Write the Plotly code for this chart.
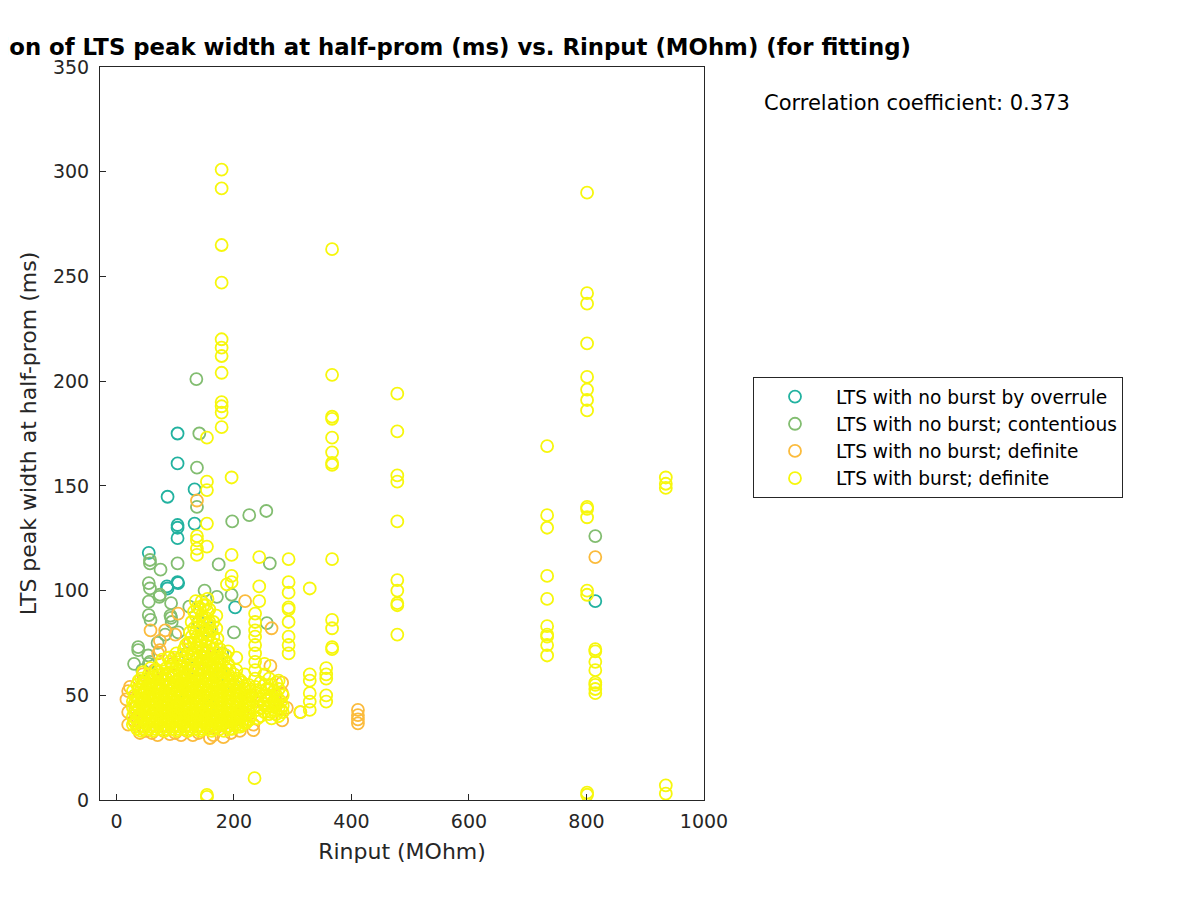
import plotly.graph_objects as go

# ---------------- data ----------------
# LTS with no burst by overrule
overrule_rinput = [104, 104, 87, 133, 104, 104, 104, 133, 55, 104, 87, 202, 105, 86, 154, 815, 180, 160, 120, 200]
overrule_width = [175, 160.7, 144.8, 148.3, 131.3, 130, 125, 132, 118, 104, 101, 92, 103.6, 102, 81, 95, 60, 45, 50, 55]

# LTS with no burst; contentious
contentious_rinput = [136, 141, 137, 137, 255, 226, 197, 57, 57, 75, 104, 261, 174, 55, 57, 73, 55, 93,
                      124, 55, 58, 93, 94, 37, 37, 30, 55, 57, 54, 70, 83, 159, 171, 196, 256, 92, 74,
                      815, 105, 120, 180, 200, 60, 44, 140, 150, 130]
contentious_width = [201, 175, 158.7, 140, 138, 136, 133, 114.6, 113, 110, 113, 113, 112.5, 103.6, 101, 97,
                     94.7, 94, 92.3, 88.3, 86, 87, 85, 73, 71.6, 65, 65, 66, 69, 75, 79, 82, 97, 98, 84.5,
                     88, 98, 126, 80, 70, 70, 80, 60, 62, 85, 100, 63]

# LTS with no burst; definite
nb_definite_rinput = [20, 17, 23, 20, 20, 30, 32, 40, 45, 50, 60, 70, 80, 91, 100, 110, 120, 130, 140, 159,
                      165, 182, 195, 210, 233, 233, 282, 282, 282, 313, 411, 411, 411, 411, 219, 105, 58,
                      83, 100, 74, 74, 71, 264, 262, 137, 815, 90, 95, 125, 150, 60, 55, 45, 85, 230, 250,
                      270, 290, 200, 180, 215, 160, 120, 100, 140, 65]
nb_definite_width = [52, 48, 54, 42, 36, 38, 44, 32, 35, 33, 32, 31, 33, 31.5, 32, 31, 33, 31, 32, 29.6,
                     31, 30, 32, 33, 33.4, 36, 38, 51, 56, 42, 43, 40.5, 38.5, 36.6, 95, 89, 81,
                     81, 79, 71.6, 76, 70, 82, 64, 143, 116, 68, 65, 75, 70, 55, 50, 60, 58, 50, 46,
                     48, 44, 40, 36, 42, 38, 40, 45, 62, 62]

# LTS with burst; definite  (one Rinput per cell, several widths per cell)
burst_cell_rinput = [179, 154, 367, 478, 733, 801, 815, 935, 137, 196, 188, 243, 293, 329, 357, 235, 313, 283,
                     236,
                     28, 35, 42, 48, 55, 62, 68, 75, 82, 88, 95, 102, 108, 115, 122, 128, 135, 142, 148,
                     155, 162, 170, 176, 183, 190, 197, 204, 211, 218, 225, 245, 252, 260, 268, 276,
                     31, 38, 45, 52, 58, 65, 72, 78, 85, 92, 98, 105, 112, 118, 125, 132, 138, 145, 152,
                     158, 165, 172, 179, 186, 193, 200, 207, 214, 221, 228, 240, 256, 264, 272, 280]
burst_cell_width = [
    [301, 292, 265, 247, 220, 216, 212, 204, 190, 188, 185, 178],
    [173, 152, 148, 132, 121, 2.4, 1.5],
    [263, 203, 183, 182, 173, 166, 161, 160, 115, 86, 82, 73, 72],
    [194, 176, 155, 152, 133, 105, 100, 94, 93, 79],
    [169, 136, 130, 107, 96, 83, 79, 78, 74, 69],
    [290, 242, 237, 218, 202, 196, 191, 186, 140, 139, 135, 100, 98, 3.5, 2.5],
    [72, 71, 66, 62, 56, 55, 53, 51],
    [154, 151, 149, 7, 3],
    [126, 124, 120, 117],
    [154, 117, 107, 104],
    [103],
    [116, 102, 95],
    [115, 104, 99, 92, 91, 85, 78, 74, 70],
    [101, 60, 57, 51, 47, 43],
    [63, 60, 58, 50, 47],
    [10.4],
    [42],
    [50, 45, 42],
    [89, 85, 81, 78, 74, 70, 66, 62, 58, 54, 50],
    [36, 40, 44, 47, 52],
    [34, 38, 42, 45, 49, 55],
    [33, 37, 41, 46, 50, 54, 58],
    [35, 39, 43, 48, 52, 57],
    [34, 38, 42, 45, 50, 55, 60],
    [33, 36, 40, 44, 47, 51, 56],
    [35, 39, 43, 46, 50, 54, 62],
    [34, 37, 41, 45, 49, 53, 58, 65],
    [33, 36, 40, 44, 48, 52, 57],
    [35, 38, 42, 46, 51, 55, 60, 68],
    [34, 37, 41, 45, 49, 53, 59, 64],
    [33, 36, 40, 43, 47, 52, 56, 63, 70],
    [35, 39, 42, 46, 50, 54, 58, 66],
    [34, 37, 41, 44, 48, 53, 57, 61, 72],
    [33, 36, 40, 45, 49, 52, 56, 60, 65, 75],
    [35, 38, 42, 46, 51, 55, 59, 64, 70, 78, 85],
    [34, 37, 41, 44, 48, 52, 57, 62, 67, 73, 80, 88, 95],
    [33, 36, 40, 43, 47, 51, 55, 60, 65, 69, 76, 83, 91],
    [35, 38, 42, 46, 50, 54, 58, 63, 68, 72, 79, 86, 93],
    [34, 37, 41, 45, 49, 53, 57, 61, 66, 71, 77, 84, 90, 96],
    [33, 36, 40, 44, 48, 52, 56, 60, 64, 70, 75, 81],
    [35, 39, 43, 47, 51, 55, 59, 63, 68, 74, 82, 88],
    [34, 38, 42, 46, 50, 54, 58, 62, 66, 72],
    [33, 37, 41, 45, 49, 53, 57, 61, 67],
    [35, 39, 43, 47, 51, 55, 60, 65, 71],
    [34, 38, 42, 46, 50, 54, 58],
    [36, 40, 44, 48, 52, 56, 62, 68],
    [35, 39, 43, 47, 51, 57],
    [37, 41, 45, 49, 53, 60],
    [38, 42, 46, 50, 55],
    [40, 44, 48, 52, 56],
    [42, 46, 50, 55, 60, 65],
    [41, 45, 49, 53, 58],
    [43, 47, 52],
    [40, 44, 48, 53, 57],
    [37, 42, 46, 50],
    [35, 40, 44, 48, 53, 57],
    [34, 38, 43, 47, 51, 56, 61],
    [36, 40, 44, 49, 53, 58],
    [35, 39, 43, 48, 53, 57, 63],
    [34, 38, 42, 46, 50, 55, 59],
    [36, 40, 44, 48, 52, 56, 61],
    [35, 39, 43, 47, 51, 55, 60, 67],
    [34, 38, 42, 46, 50, 54, 58, 63],
    [36, 40, 44, 48, 52, 56, 61, 66],
    [35, 39, 43, 47, 51, 55, 60, 68],
    [34, 38, 42, 45, 49, 53, 57, 62, 67],
    [36, 40, 43, 47, 51, 55, 59, 64, 69],
    [35, 39, 42, 46, 50, 54, 58, 63, 68, 74],
    [34, 38, 41, 45, 49, 53, 57, 62, 67, 72, 80],
    [36, 40, 43, 47, 51, 55, 59, 64, 69, 75, 82, 90],
    [35, 39, 42, 46, 50, 54, 58, 63, 68, 73, 78, 84, 92],
    [34, 38, 41, 45, 49, 53, 57, 62, 66, 71, 76, 82, 88, 95],
    [36, 40, 43, 47, 51, 55, 59, 64, 68, 74, 80, 87, 93],
    [35, 39, 42, 46, 50, 54, 58, 63, 67, 73, 79, 85, 91],
    [34, 38, 41, 45, 49, 53, 57, 62, 67, 72, 78, 85],
    [36, 40, 43, 47, 51, 55, 60, 65, 70, 77],
    [36, 40, 44, 48, 52, 57, 62, 68],
    [35, 39, 42, 46, 50, 54, 58, 63, 69],
    [34, 38, 41, 45, 49, 53, 57, 62],
    [36, 40, 43, 47, 51, 55, 60],
    [35, 39, 42, 46, 50, 54, 58],
    [36, 40, 44, 48, 52, 56],
    [37, 41, 45, 49, 53],
    [40, 44, 48, 52],
    [39, 43, 47],
    [44, 48, 53],
    [39, 42, 46, 50, 55],
    [41, 45, 50, 56],
    [43, 47],
]

legend_labels = ["LTS with no burst by overrule", "LTS with no burst; contentious",
                 "LTS with no burst; definite", "LTS with burst; definite"]
colors = ["#22b2a0", "#82bd70", "#fbbb3c", "#f7f70c"]
x_ticks = [0, 200, 400, 600, 800, 1000]
y_ticks = [0, 50, 100, 150, 200, 250, 300, 350]
title_text = "Correlation of LTS peak width at half-prom (ms) vs. Rinput (MOhm) (for fitting)"
corr_text = "Correlation coefficient: 0.373"

# ---------------- build ----------------
burst_rinput = [r for r, ws in zip(burst_cell_rinput, burst_cell_width) for _ in ws]
burst_width = [w for ws in burst_cell_width for w in ws]

series = [
    (overrule_rinput, overrule_width),
    (contentious_rinput, contentious_width),
    (nb_definite_rinput, nb_definite_width),
    (burst_rinput, burst_width),
]

FONT = "DejaVu Sans"
AX = "#262626"

# the page body adds an 8px offset; plot box in page pixels: x 100..704, y 67..800
OFF = 8
L, R, T, B = 100 - OFF, 1200 - (704 - OFF), 67 - OFF, 900 - (800 - OFF)
PW, PH = 604, 733

fig = go.Figure()
for (xs, ys), name, c in zip(series, legend_labels, colors):
    fig.add_trace(go.Scatter(
        x=xs, y=ys, mode="markers", name=name,
        marker=dict(symbol="circle-open", size=12, color=c, line=dict(width=1.8, color=c)),
    ))

fig.update_layout(
    width=1200, height=900,
    margin=dict(l=L, r=R, t=T, b=B, autoexpand=False),
    paper_bgcolor="white", plot_bgcolor="white",
    font=dict(family=FONT, color=AX, size=19),
    showlegend=True,
    legend=dict(
        x=(753 - 100) / PW, y=(800 - 377) / PH, xanchor="left", yanchor="top",
        bordercolor=AX, borderwidth=1, bgcolor="white",
        font=dict(family=FONT, size=18.6, color="#000000"),
        itemwidth=72,
    ),
    xaxis=dict(
        range=[-28, 1000], tickvals=x_ticks, ticks="inside", ticklen=6, tickcolor=AX,
        showline=True, linecolor=AX, linewidth=1, mirror=True, showgrid=False, zeroline=False,
        title=dict(text="Rinput (MOhm)", font=dict(size=22), standoff=12),
        tickfont=dict(size=19), ticklabelstandoff=4,
    ),
    yaxis=dict(
        range=[0, 350], tickvals=y_ticks, ticks="inside", ticklen=6, tickcolor=AX,
        showline=True, linecolor=AX, linewidth=1, mirror=True, showgrid=False, zeroline=False,
        title=dict(text="LTS peak width at half-prom (ms)", font=dict(size=22), standoff=10),
        tickfont=dict(size=19), ticklabelstandoff=6,
    ),
    annotations=[
        dict(text="<b>" + title_text + "</b>", x=0.5 + 2 / PW, y=1 + 20 / PH, xref="paper", yref="paper",
             xanchor="center", yanchor="middle", showarrow=False,
             font=dict(family=FONT, size=22.8, color="#000000")),
        dict(text=corr_text, x=(762 - 100) / PW, y=(800 - 103) / PH, xref="paper", yref="paper",
             xanchor="left", yanchor="middle", showarrow=False,
             font=dict(family=FONT, size=21, color="#000000")),
    ],
)

fig.write_html("out.html")
